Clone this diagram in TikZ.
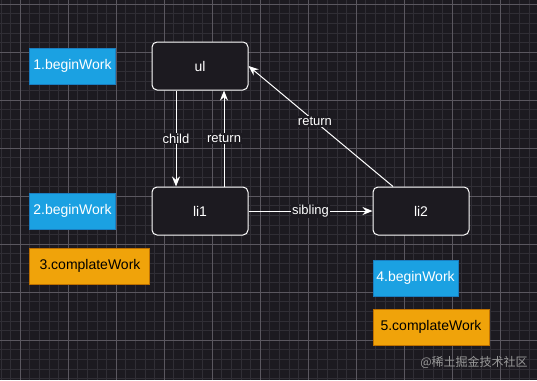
\documentclass[tikz,border=0pt]{standalone}
\usepackage{fontspec}
\setmainfont{Liberation Sans}
\newfontfamily\cjk{Noto Sans CJK SC}
\usetikzlibrary{arrows.meta,positioning}
\definecolor{bg}{HTML}{1C1A20}
\definecolor{gridminor}{HTML}{302E35}
\definecolor{gridmajor}{HTML}{5A575F}
\definecolor{workblue}{HTML}{1BA1E2}
\definecolor{workblueline}{HTML}{1A7DBF}
\definecolor{workorange}{HTML}{F0A30A}
\definecolor{workorangeline}{HTML}{BD7000}
\tikzset{
 fiber/.style={draw=white,fill=bg,rounded corners=5pt,line width=1pt,align=center,
             minimum height=48pt,minimum width=96pt,text=white,font=\fontsize{14}{16}\selectfont},
 begin/.style={draw=workblueline,fill=workblue,line width=1pt,minimum height=36pt,
             minimum width=84pt,text=white,font=\fontsize{14}{16}\selectfont},
 complete/.style={draw=workorangeline,fill=workorange,line width=1pt,minimum height=36pt,
             minimum width=116pt,text=black,font=\fontsize{14}{16}\selectfont},
 arrow/.style={-{Stealth[length=10pt,width=8pt]},white,line width=1pt},
 edgelabel/.style={fill=bg,text=white,inner sep=1pt,font=\fontsize{13}{15}\selectfont}
}

\begin{document}
\begin{tikzpicture}[x=1pt,y=-1pt]
% background and grid
\fill[bg] (0,0) rectangle (537,380);
\useasboundingbox (0,0) rectangle (537,380);
\begin{scope}
\clip (0,0) rectangle (537,380);
\foreach \i in {-3,...,56} {
  \draw[gridminor,line width=0.5pt] ({20+9.6*\i},0) -- ({20+9.6*\i},380);
}
\foreach \j in {-1,...,40} {
  \draw[gridminor,line width=0.5pt] (0,{4+9.6*\j}) -- (537,{4+9.6*\j});
}
\foreach \i in {-1,...,11} {
  \draw[gridmajor,line width=0.7pt] ({20+48*\i},0) -- ({20+48*\i},380);
}
\foreach \j in {0,...,8} {
  \draw[gridmajor,line width=0.7pt] (0,{4+48*\j}) -- (537,{4+48*\j});
}
\end{scope}

% fibers
\node[fiber] (ul) at (200,66) {ul};
\node[fiber,below=96pt of ul] (li1) {li1};
\node[fiber,right=124pt of li1] (li2) {li2};

% work steps
\node[begin,left=36pt of ul] (begin1) {1.beginWork};
\node[begin,left=36pt of li1] (begin2) {2.beginWork};
\node[complete,minimum width=120pt,below=18pt of begin2.south west,anchor=north west] (complete3) {3.complateWork};
\node[begin,below=24pt of li2.south west,anchor=north west] (begin4) {4.beginWork};
\node[complete,below=12pt of begin4.south west,anchor=north west] (complete5) {5.complateWork};

% links
\draw[arrow] ([xshift=-24pt]ul.south) -- node[edgelabel] {child} ([xshift=-24pt]li1.north);
\draw[arrow] ([xshift=24pt]li1.north) -- node[edgelabel] {return} ([xshift=24pt]ul.south);
\draw[arrow] (li1) -- node[edgelabel] {sibling} (li2);
\draw[arrow] ([xshift=-28pt]li2.north) -- node[edgelabel,pos=0.54] {return} (ul.east);

\node[text=gray!80,font=\cjk\fontsize{12}{14}\selectfont] (mark) at (474,362) {@稀土掘金技术社区};
\end{tikzpicture}
\end{document}
